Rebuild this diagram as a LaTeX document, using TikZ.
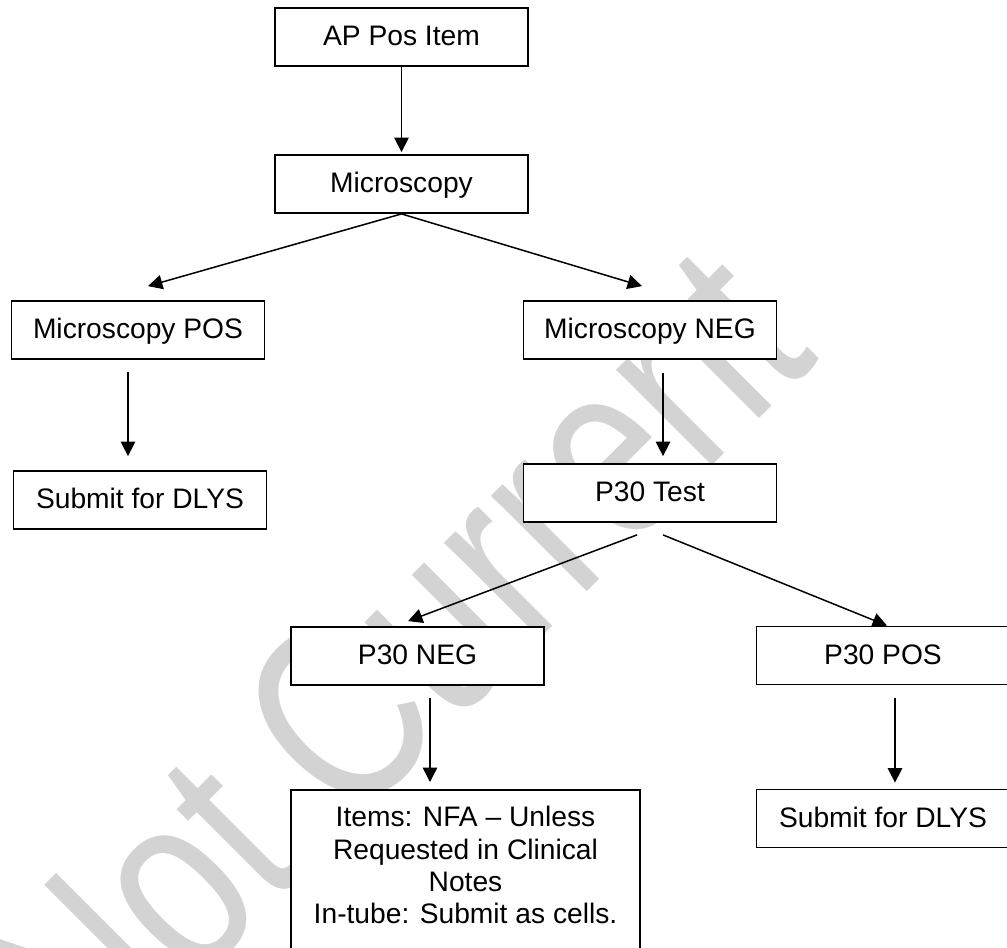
\documentclass[tikz,border=0pt]{standalone}
\usepackage{fontspec}
\setmainfont{Liberation Sans}
\usetikzlibrary{arrows.meta,calc}

\definecolor{wmgrey}{RGB}{211,211,211}

\tikzset{
  flowbox/.style={draw=black, line width=0.9pt, fill=white, rectangle,
    minimum width=126.5pt, minimum height=29pt, inner sep=0pt,
    font=\fontsize{14.1}{16.15}\selectfont},
  oneline/.style={text height=11pt, text depth=2.5pt},
  flowarrow/.style={draw=black, line width=0.75pt,
    -{Triangle[length=7.2pt,width=7.2pt]}},
  watermark/.style={text=wmgrey, inner sep=0pt, anchor=base, rotate=45,
    font=\fontsize{100}{110}\selectfont}
}

\begin{document}
\begin{tikzpicture}[x=0.5pt, y=-0.5pt]
  \useasboundingbox (0,0) rectangle (1007,948);
  \clip (0,0) rectangle (1007,948);
  \fill[white] (0,0) rectangle (1007,948);

  % background stamp
  \node[watermark] (stamp) at (455.6,723) {\scalebox{1}[1.28]{Not Current}};

  % boxes
  \node[flowbox, oneline] (ap)   at (401.5,37)  {AP Pos Item};
  \node[flowbox, oneline] (mic)  at (401.5,184) {Microscopy};
  \node[flowbox, oneline] (mpos) at (138,330)   {Microscopy POS};
  \node[flowbox, oneline] (mneg) at (650,330)   {Microscopy NEG};
  \node[flowbox, oneline] (lsub) at (140,500)   {Submit for DLYS};
  \node[flowbox, oneline] (p30)  at (650,493)   {P30 Test};
  \node[flowbox, oneline] (pneg) at (417.5,656) {P30 NEG};
  \node[flowbox, oneline] (ppos) at (883,655.5) {P30 POS};
  \node[flowbox, oneline] (rsub) at (883,818.5) {Submit for DLYS};
  \node[flowbox, anchor=north, minimum width=174.5pt, inner ysep=8.2pt,
        align=center] (items) at (465.5,789)
    {Items: NFA – Unless\\Requested in Clinical\\Notes\\In-tube: Submit as cells.\\~};

  % connectors
  \draw[flowarrow] (ap.south) -- ($(mic.north)+(0,-2)$);
  \draw[flowarrow] (mic.south) -- ($(mpos.north)+(10,-14)$);
  \draw[flowarrow] (mic.south) -- ($(mneg.north)+(-8,-14)$);
  \draw[flowarrow] ($(mpos.south)+(-10,12)$) -- ($(lsub.north)+(-12,-14)$);
  \draw[flowarrow] ($(mneg.south)+(13,13)$) -- ($(p30.north)+(13,-7)$);
  \draw[flowarrow] ($(p30.south)+(-13,12)$) -- ($(pneg.north)+(-9.5,-5)$);
  \draw[flowarrow] ($(p30.south)+(13,12)$) -- ($(ppos.north)+(4,0)$);
  \draw[flowarrow] ($(pneg.south)+(12.5,12)$) -- ($(items.north)+(-35.5,-7)$);
  \draw[flowarrow] ($(ppos.south)+(12,13)$) -- ($(rsub.north)+(12,-6)$);
\end{tikzpicture}
\end{document}
